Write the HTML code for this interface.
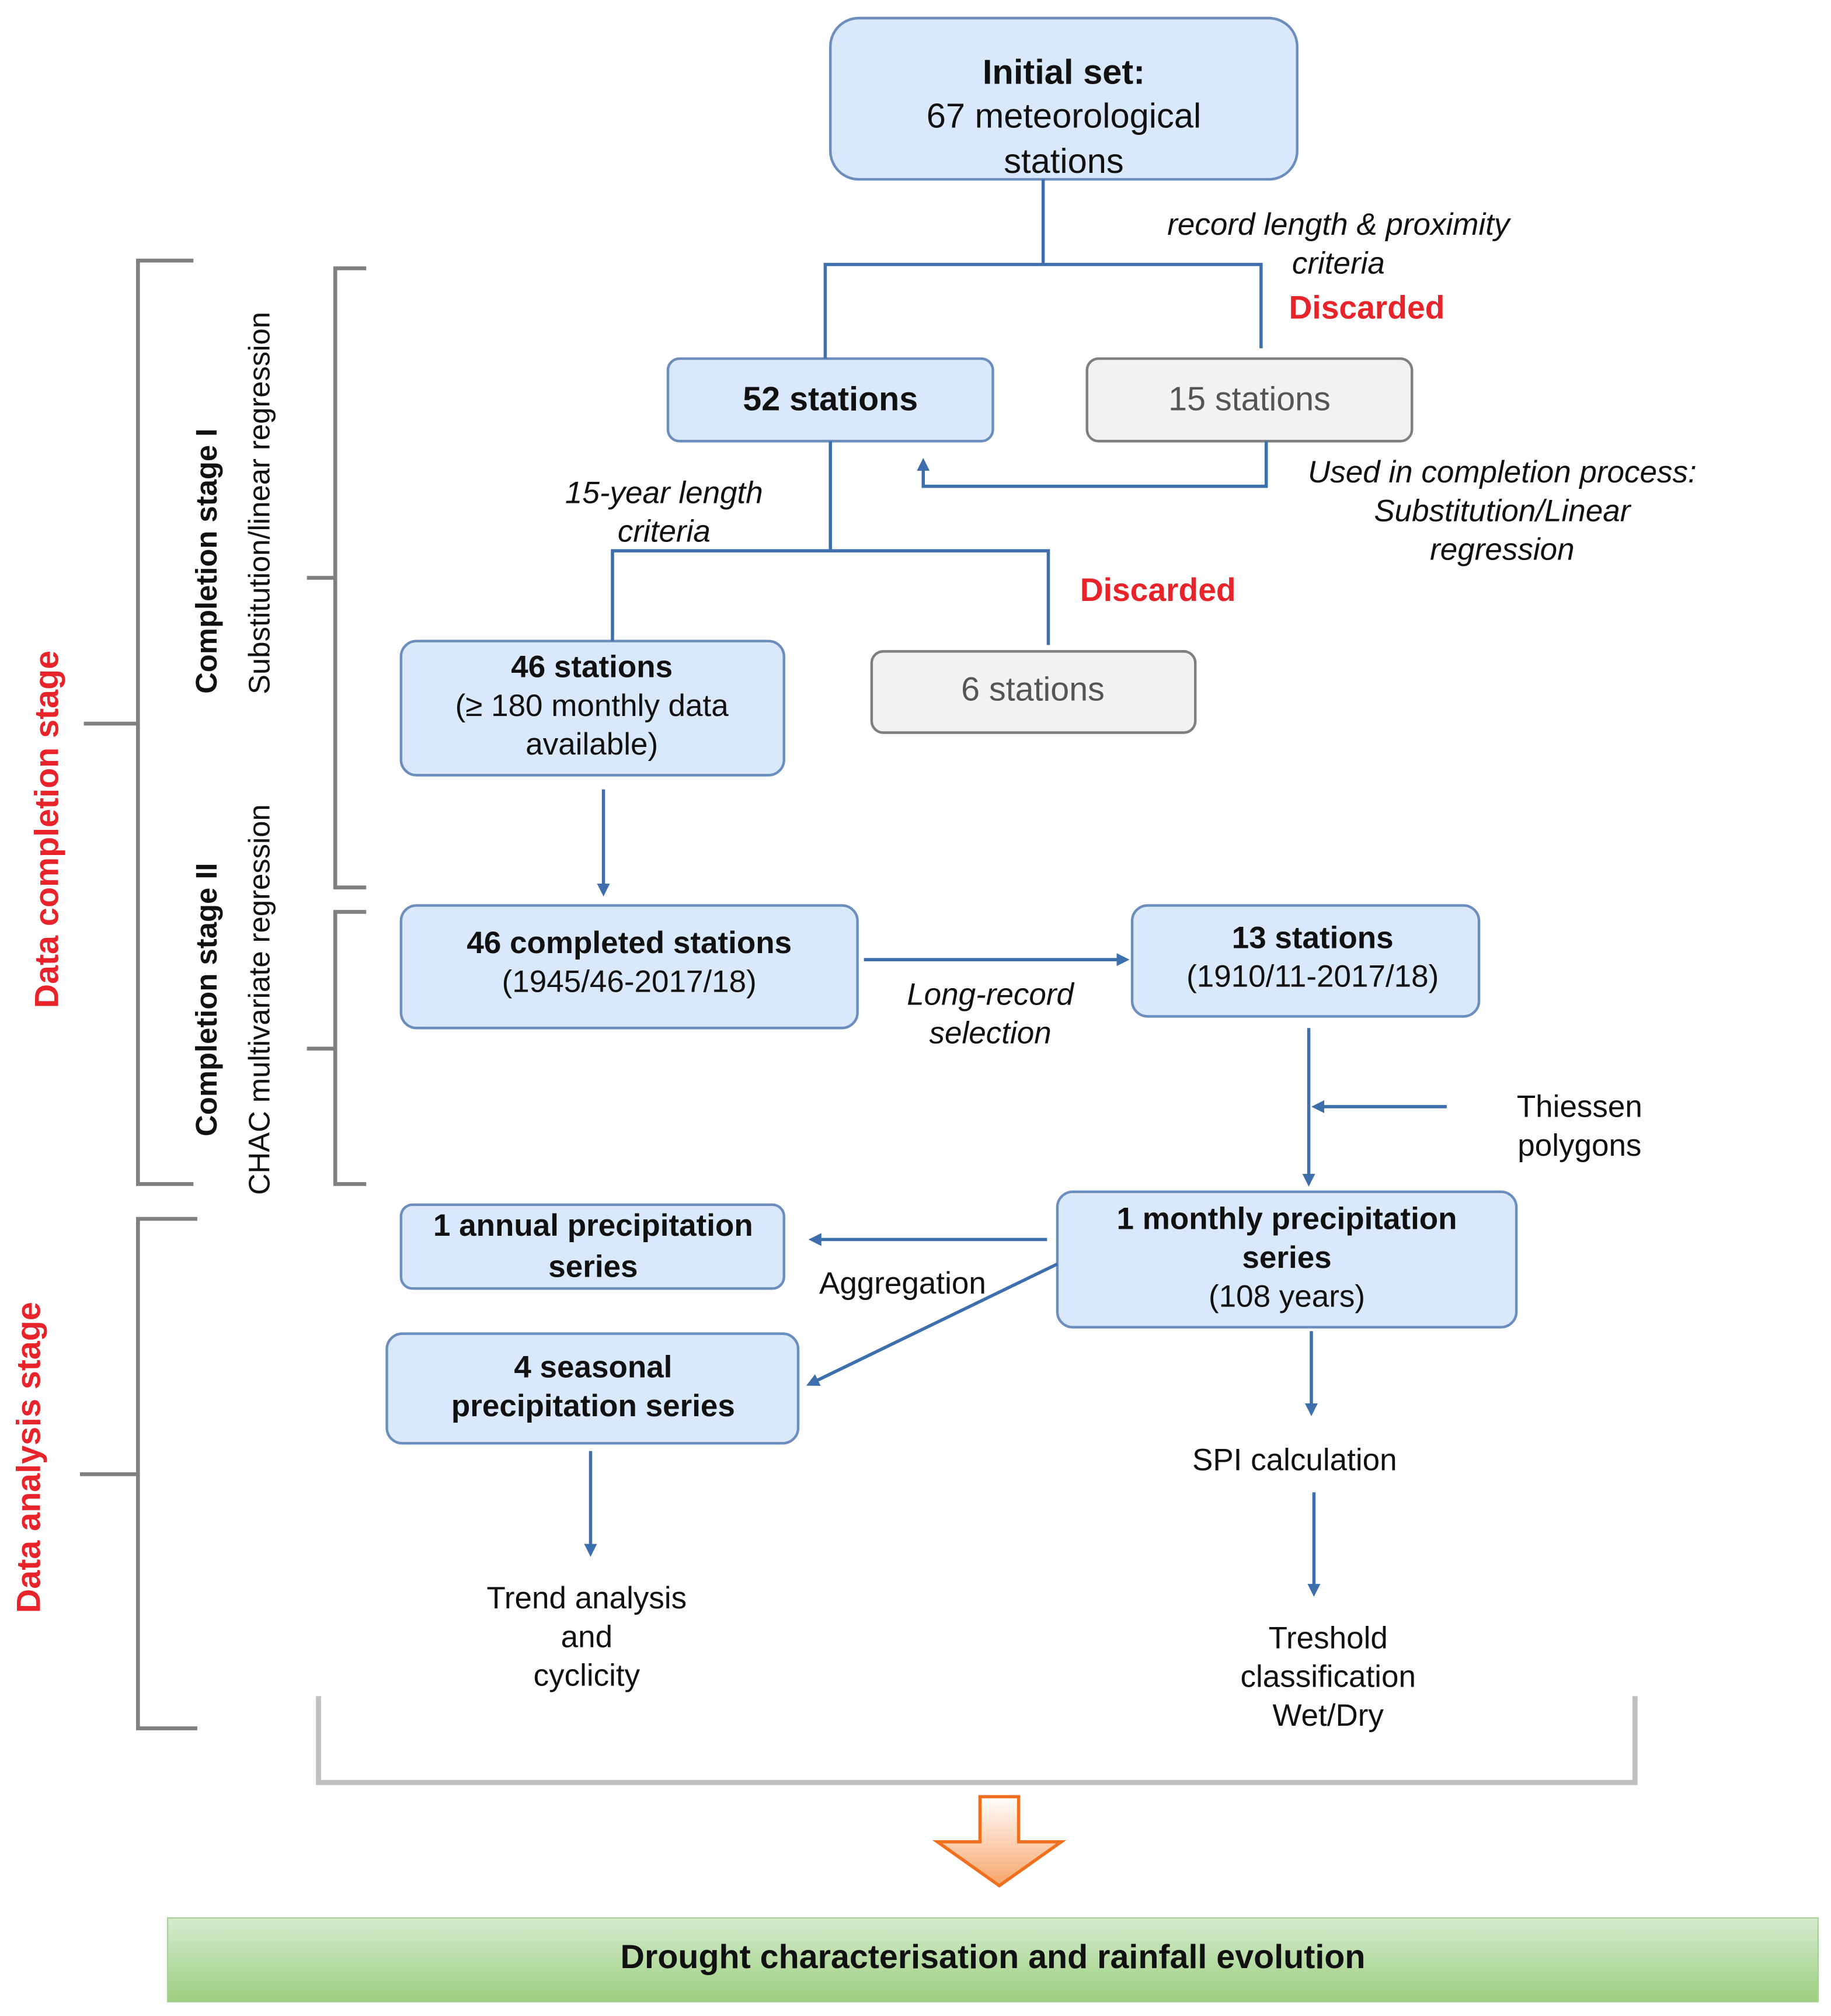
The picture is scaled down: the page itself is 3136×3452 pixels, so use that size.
<!DOCTYPE html>
<html><head><meta charset="utf-8"><style>html,body{margin:0;padding:0;background:#fff}svg{display:block}</style></head>
<body>
<svg width="3136" height="3452" viewBox="0 0 1420 1563" xmlns="http://www.w3.org/2000/svg" font-family="Liberation Sans, sans-serif">
<defs>
<marker id="ah" markerWidth="10" markerHeight="10" refX="7" refY="5" orient="auto" markerUnits="userSpaceOnUse"><path d="M0,0 L10,5 L0,10 z" fill="#3d6fad"/></marker>
<linearGradient id="gr" x1="0" y1="0" x2="0" y2="1"><stop offset="0" stop-color="#d6ebd0"/><stop offset="1" stop-color="#9ccf7e"/></linearGradient>
<linearGradient id="og" x1="0" y1="0" x2="0" y2="1"><stop offset="0" stop-color="#fff"/><stop offset="1" stop-color="#f7a56a"/></linearGradient>
</defs>
<rect width="1420" height="1563" fill="#fff"/>
<g fill="#dae8fc" stroke="#6c8ebf" stroke-width="2">
<rect x="644" y="14" width="362" height="125" rx="22"/>
<rect x="518" y="278" width="252" height="64" rx="9"/>
<rect x="311" y="497" width="297" height="104" rx="12"/>
<rect x="311" y="702" width="354" height="95" rx="12"/>
<rect x="878" y="702" width="269" height="86" rx="12"/>
<rect x="820" y="924" width="356" height="105" rx="12"/>
<rect x="311" y="934" width="297" height="65" rx="9"/>
<rect x="300" y="1034" width="319" height="85" rx="12"/>
</g>
<g fill="#f2f2f2" stroke="#7f7f7f" stroke-width="2">
<rect x="843" y="278" width="252" height="64" rx="9"/>
<rect x="676" y="505" width="251" height="63" rx="9"/>
</g>
<g stroke="#3d6fad" stroke-width="2.5" fill="none">
<path d="M809,139 V205 M640,278 V205 H978 V270"/>
<path d="M982,342 V377 H716 V358" marker-end="url(#ah)"/>
<path d="M644,342 V427 M475,497 V427 H813 V500"/>
<path d="M468,612 V692" marker-end="url(#ah)"/>
<path d="M670,744 H873" marker-end="url(#ah)"/>
<path d="M1015,797 V917" marker-end="url(#ah)"/>
<path d="M1122,858 H1020" marker-end="url(#ah)"/>
<path d="M812,961 H630" marker-end="url(#ah)"/>
<path d="M820,980 L628,1073" marker-end="url(#ah)"/>
<path d="M458,1125 V1204" marker-end="url(#ah)"/>
<path d="M1017,1032 V1095" marker-end="url(#ah)"/>
<path d="M1019,1157 V1235" marker-end="url(#ah)"/>
</g>
<g stroke="#808080" stroke-width="3" fill="none">
<path d="M150,202 H107 V918 H150 M107,561 H65"/>
<path d="M153,945 H107 V1340 H153 M107,1143 H62"/>
<path d="M284,208 H260 V688 H284 M260,448 H238"/>
<path d="M284,707 H260 V918 H284 M260,813 H238"/>
</g>
<path d="M247,1315 V1382 H1268 V1315" stroke="#c0c0c0" stroke-width="4" fill="none"/>
<path d="M760,1393 H790 V1428 H823 L775,1462 L727,1428 H760 Z" fill="url(#og)" stroke="#f07020" stroke-width="2.5"/>
<rect x="130" y="1487" width="1280" height="65" fill="url(#gr)" stroke="#a8cf98" stroke-width="1"/>
<g font-size="26" fill="#111" text-anchor="middle">
<text x="825" y="65" font-weight="bold" font-size="27">Initial set:</text>
<text x="825" y="99" font-size="27">67 meteorological</text>
<text x="825" y="134" font-size="27">stations</text>
<text x="644" y="318" font-weight="bold">52 stations</text>
<text x="969" y="318" fill="#555">15 stations</text>
<text x="801" y="543" fill="#555">6 stations</text>
<text x="459" y="525" font-weight="bold" font-size="24">46 stations</text>
<text x="459" y="555" font-size="24">(≥ 180 monthly data</text>
<text x="459" y="585" font-size="24">available)</text>
<text x="488" y="739" font-weight="bold" font-size="24">46 completed stations</text>
<text x="488" y="769" font-size="24">(1945/46-2017/18)</text>
<text x="1018" y="735" font-weight="bold" font-size="24">13 stations</text>
<text x="1018" y="765" font-size="24">(1910/11-2017/18)</text>
<text x="998" y="953" font-weight="bold" font-size="24">1 monthly precipitation</text>
<text x="998" y="983" font-weight="bold" font-size="24">series</text>
<text x="998" y="1013" font-size="24">(108 years)</text>
<text x="460" y="958" font-weight="bold" font-size="24">1 annual precipitation</text>
<text x="460" y="990" font-weight="bold" font-size="24">series</text>
<text x="460" y="1068" font-weight="bold" font-size="24">4 seasonal</text>
<text x="460" y="1098" font-weight="bold" font-size="24">precipitation series</text>
<text x="700" y="1003" font-size="24">Aggregation</text>
<text x="1225" y="866" font-size="24">Thiessen</text>
<text x="1225" y="896" font-size="24">polygons</text>
<text x="455" y="1247" font-size="24">Trend analysis</text>
<text x="455" y="1277" font-size="24">and</text>
<text x="455" y="1307" font-size="24">cyclicity</text>
<text x="1004" y="1140" font-size="24">SPI calculation</text>
<text x="1030" y="1278" font-size="24">Treshold</text>
<text x="1030" y="1308" font-size="24">classification</text>
<text x="1030" y="1338" font-size="24">Wet/Dry</text>
<g font-style="italic" font-size="24">
<text x="1038" y="182">record length &amp; proximity</text>
<text x="1038" y="212">criteria</text>
<text x="1165" y="374">Used in completion process:</text>
<text x="1165" y="404">Substitution/Linear</text>
<text x="1165" y="434">regression</text>
<text x="515" y="390">15-year length</text>
<text x="515" y="420">criteria</text>
<text x="768" y="779">Long-record</text>
<text x="768" y="809">selection</text>
</g>
<g fill="#e8232a" font-weight="bold" font-size="25">
<text x="1060" y="247">Discarded</text>
<text x="898" y="466">Discarded</text>
</g>
<text x="770" y="1526" font-weight="bold" font-size="26">Drought characterisation and rainfall evolution</text>
<text transform="translate(45,643) rotate(-90)" fill="#e8232a" font-weight="bold" font-size="26">Data completion stage</text>
<text transform="translate(31,1130) rotate(-90)" fill="#e8232a" font-weight="bold" font-size="26">Data analysis stage</text>
<text transform="translate(168,435) rotate(-90)" font-weight="bold" font-size="23">Completion stage I</text>
<text transform="translate(209,390) rotate(-90)" font-size="23">Substitution/linear regression</text>
<text transform="translate(168,775) rotate(-90)" font-weight="bold" font-size="23">Completion stage II</text>
<text transform="translate(209,775) rotate(-90)" font-size="23">CHAC multivariate regression</text>
</g>
</svg>
</body></html>
